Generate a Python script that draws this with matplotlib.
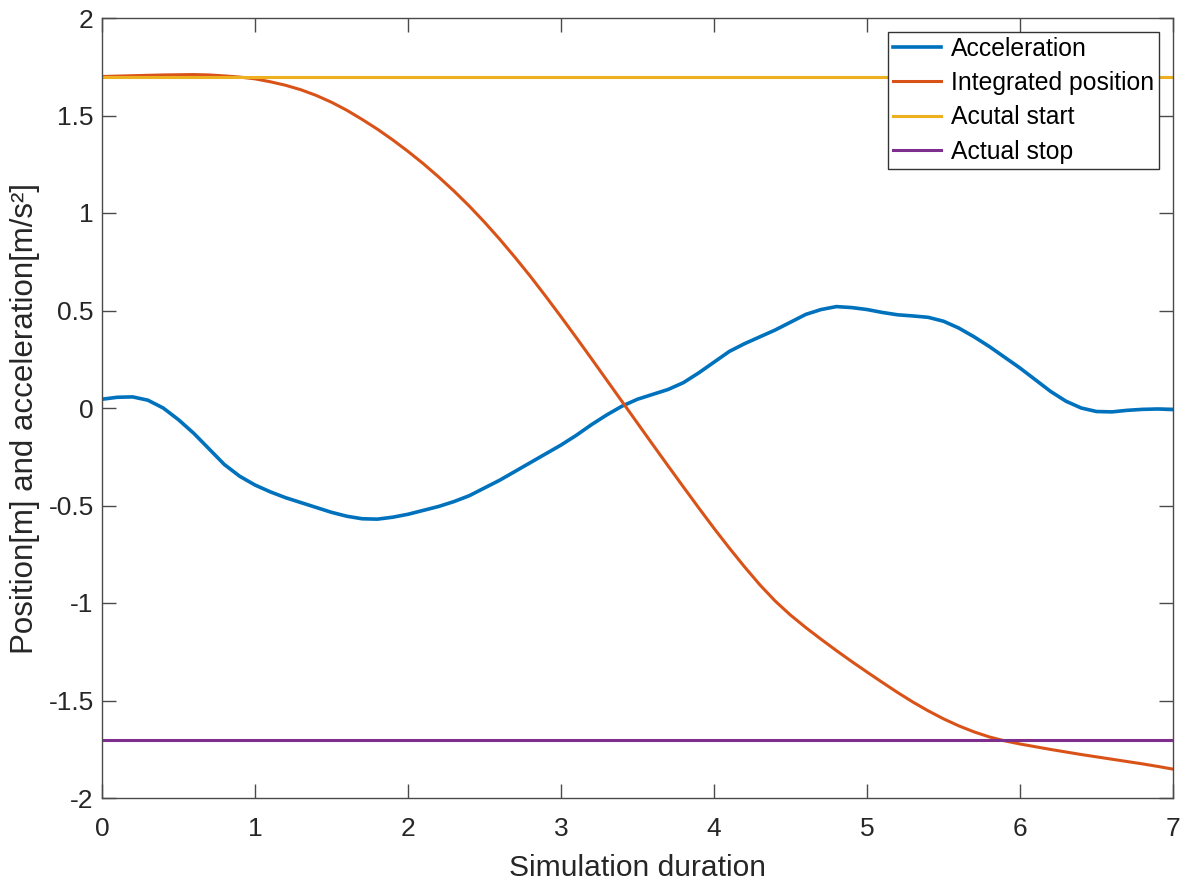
import numpy as np
import matplotlib
matplotlib.use("Agg")
import matplotlib.pyplot as plt

plt.rcParams['font.family'] = ['Liberation Sans', 'DejaVu Sans']

# Sample times (s), 0.1 s step
time = np.round(np.arange(0, 7.01, 0.1), 1)

acceleration = [
    0.045, 0.055, 0.057, 0.040, 0.000, -0.060, -0.130, -0.210, -0.290, -0.350,
    -0.395, -0.430, -0.460, -0.485, -0.510, -0.535, -0.555, -0.568, -0.570, -0.560,
    -0.545, -0.525, -0.505, -0.480, -0.450, -0.410, -0.370, -0.325, -0.280, -0.235,
    -0.190, -0.140, -0.085, -0.035, 0.010, 0.045, 0.070, 0.095, 0.130, 0.180,
    0.235, 0.290, 0.330, 0.365, 0.400, 0.440, 0.480, 0.505, 0.520, 0.515,
    0.505, 0.490, 0.478, 0.472, 0.465, 0.445, 0.410, 0.365, 0.315, 0.260,
    0.205, 0.145, 0.085, 0.035, 0.000, -0.018, -0.020, -0.012, -0.007, -0.005,
    -0.008,
]

position = [
    1.700, 1.702, 1.704, 1.706, 1.708, 1.709, 1.710, 1.708, 1.703, 1.697,
    1.688, 1.673, 1.655, 1.632, 1.603, 1.568, 1.527, 1.480, 1.430, 1.375,
    1.316, 1.253, 1.185, 1.113, 1.036, 0.953, 0.865, 0.772, 0.675, 0.573,
    0.468, 0.361, 0.252, 0.142, 0.032, -0.078, -0.188, -0.297, -0.405, -0.512,
    -0.617, -0.718, -0.815, -0.907, -0.990, -1.062, -1.126, -1.186, -1.244, -1.300,
    -1.354, -1.407, -1.459, -1.508, -1.553, -1.594, -1.630, -1.661, -1.687, -1.707,
    -1.723, -1.737, -1.751, -1.764, -1.777, -1.789, -1.801, -1.813, -1.825, -1.838,
    -1.852,
]

start_pos = 1.7
stop_pos = -1.7

labels = ["Acceleration", "Integrated position", "Acutal start", "Actual stop"]
colors = ["#0072BD", "#D95319", "#EDB120", "#7E2F8E"]

fig = plt.figure(figsize=(11.89, 8.82), dpi=100)
ax = fig.add_axes([102 / 1189, 1 - 798 / 882, (1173 - 102) / 1189, (798 - 18) / 882])

ax.plot(time, acceleration, color=colors[0], lw=2.6, label=labels[0],
        solid_joinstyle="round")
ax.plot(time, position, color=colors[1], lw=2.2, label=labels[1],
        solid_joinstyle="round")
ax.plot([time[0], time[-1]], [start_pos, start_pos], color=colors[2], lw=2.2, label=labels[2])
ax.plot([time[0], time[-1]], [stop_pos, stop_pos], color=colors[3], lw=2.2, label=labels[3])

ax.set_xlim(0, 7)
ax.set_ylim(-2, 2)
xt = np.arange(0, 8, 1)
yt = np.arange(-2, 2.01, 0.5)
ax.set_xticks(xt)
ax.set_yticks(yt)
ax.set_xticklabels([f"{v:g}" for v in xt])
ax.set_yticklabels([f"{v:g}" for v in yt])

axis_color = "#4a4a4a"
for s in ax.spines.values():
    s.set_color(axis_color)
    s.set_linewidth(1.0)
ax.tick_params(direction="in", length=10, width=1, colors=axis_color,
               labelcolor="#262626", labelsize=19, top=True, right=True)
ax.tick_params(axis="x", pad=14)
ax.tick_params(axis="y", pad=6)

ax.set_xlabel("Simulation duration", fontsize=21.6, color="#262626", labelpad=9)
ax.set_ylabel("Position[m] and acceleration[m/s²]", fontsize=22.5, color="#262626")
ax.yaxis.set_label_coords(-0.058, 0.487)

leg = ax.legend(loc="upper right", fontsize=17.8, frameon=True, fancybox=False,
                edgecolor="#333333", framealpha=1, handlelength=1.95, handletextpad=0.4,
                labelspacing=0.42, borderaxespad=0.55, borderpad=0.2)
leg.get_frame().set_linewidth(1.0)

fig.savefig("out.png", dpi=100, facecolor="white")
